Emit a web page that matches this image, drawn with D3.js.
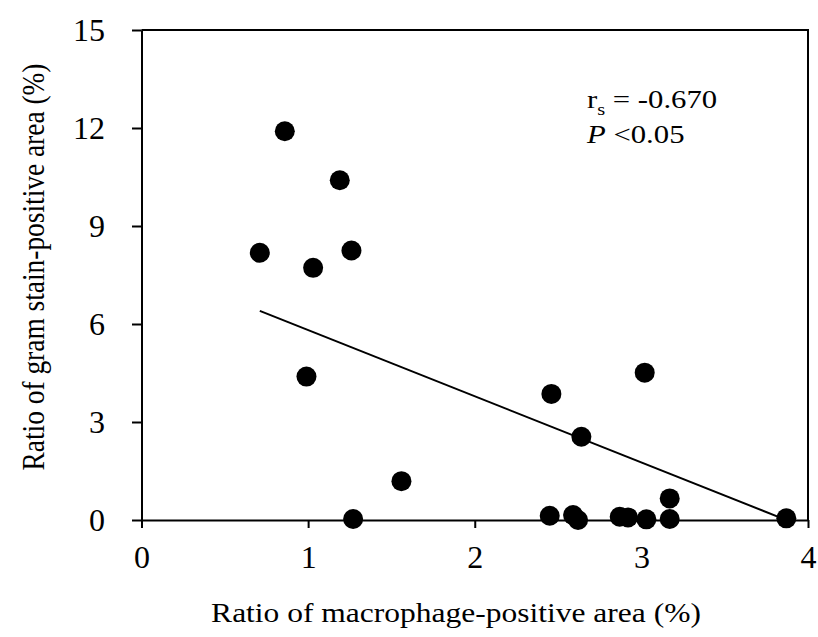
<!DOCTYPE html>
<html>
<head>
<meta charset="utf-8">
<script src="https://cdn.jsdelivr.net/npm/d3@7"></script>
<style>
  body { margin: 0; background: #fff; }
</style>
</head>
<body>
<div class="container"></div>
<script>
// macrophage-positive area (%) vs gram stain-positive area (%)
var macrophage = [0.86, 1.19, 0.71, 1.03, 1.26, 0.99, 1.56, 1.27, 2.46, 3.02, 2.64, 3.17,
                  2.45, 2.59, 2.62, 2.87, 2.92, 3.03, 3.17, 3.87];
var gramStain  = [11.9, 10.4, 8.18, 7.72, 8.25, 4.39, 1.19, 0.03, 3.86, 4.51, 2.55, 0.66,
                  0.13, 0.15, 0.0, 0.10, 0.08, 0.02, 0.03, 0.05];
var trendX = [0.71, 3.86];
var trendY = [6.40, 0.02];
var xTicks = [0, 1, 2, 3, 4];
var yTicks = [0, 3, 6, 9, 12, 15];

const WIDTH = 818;
const HEIGHT = 637;
const LEFT = 141.5, RIGHT = 808, TOP = 30, BOTTOM = 520;
const SERIF = '"Liberation Serif", "Times New Roman", Times, serif';
const STRETCH = 1.15; // picture is a bit wider than tall, text follows

var svg = d3.select('.container').append('svg')
    .attr('width', WIDTH)
    .attr('height', HEIGHT)
    .attr('font-family', SERIF);

var xScale = d3.scaleLinear().domain([0, 4]).range([LEFT, RIGHT]);
var yScale = d3.scaleLinear().domain([0, 15]).range([BOTTOM, TOP]);

// frame: top and right border
svg.append('path')
    .attr('d', 'M' + LEFT + ',' + TOP + 'H' + RIGHT + 'V' + BOTTOM)
    .attr('fill', 'none')
    .attr('stroke', '#000')
    .attr('stroke-width', 2);

var xAxis = svg.append('g')
    .attr('transform', 'translate(0,' + BOTTOM + ')')
    .call(d3.axisBottom(xScale).tickValues(xTicks).tickFormat(d3.format('d'))
        .tickSize(8).tickPadding(17).tickSizeOuter(0));

var yAxis = svg.append('g')
    .attr('transform', 'translate(' + LEFT + ',0)')
    .call(d3.axisLeft(yScale).tickValues(yTicks).tickFormat(d3.format('d'))
        .tickSize(9.5).tickPadding(27).tickSizeOuter(0));

[xAxis, yAxis].forEach(function (ax) {
    ax.attr('font-family', SERIF).attr('font-size', 32);
    ax.select('.domain').attr('stroke-width', 2);
    ax.selectAll('.tick line').attr('stroke-width', 2);
    ax.selectAll('.tick text').attr('fill', '#000');
});

// trend line
var line = d3.line()
    .x(function (d) { return xScale(d); })
    .y(function (d, i) { return yScale(trendY[i]); });

svg.append('path')
    .attr('d', line(trendX))
    .attr('fill', 'none')
    .attr('stroke', '#000')
    .attr('stroke-width', 2);

svg.selectAll('circle.pt')
    .data(macrophage)
    .enter().append('circle')
    .attr('class', 'pt')
    .attr('cx', function (d) { return xScale(d); })
    .attr('cy', function (d, i) { return yScale(gramStain[i]); })
    .attr('r', 10)
    .attr('fill', '#000');

// axis titles
svg.append('text')
    .attr('transform', 'translate(456,622) scale(' + STRETCH + ',1)')
    .attr('text-anchor', 'middle')
    .attr('font-size', 27.4)
    .text('Ratio of macrophage-positive area (%)');

svg.append('text')
    .attr('transform', 'translate(44,267) scale(' + STRETCH + ',1) rotate(-90)')
    .attr('text-anchor', 'middle')
    .attr('font-size', 27.4)
    .text('Ratio of gram stain-positive area (%)');

// statistics
var stat1 = svg.append('text')
    .attr('transform', 'translate(587,108) scale(1.2,1)')
    .attr('font-size', 25.6);
stat1.append('tspan').text('r');
stat1.append('tspan').attr('font-size', 17).attr('dy', 7).text('s');
stat1.append('tspan').attr('dy', -7).text(' = -0.670');

var stat2 = svg.append('text')
    .attr('transform', 'translate(587,143) scale(1.2,1)')
    .attr('font-size', 25.6);
stat2.append('tspan').attr('font-style', 'italic').text('P');
stat2.append('tspan').text(' <0.05');
</script>
</body>
</html>
